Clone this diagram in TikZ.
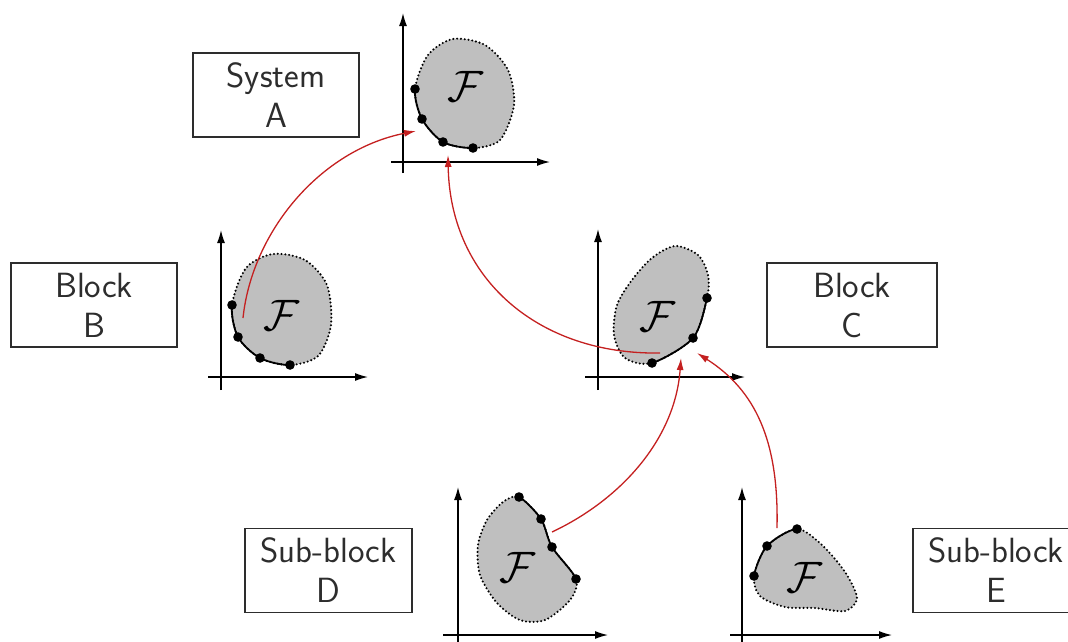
\RequirePackage{fix-cm}
\documentclass[tikz,border=0pt]{standalone}
\usepackage{fontspec}
\usetikzlibrary{arrows.meta}
\definecolor{linkred}{RGB}{196,32,32}
\definecolor{ink}{RGB}{45,45,45}
\begin{document}
\begin{tikzpicture}[x=1pt,y=-1pt,
  lbl/.style={draw=ink, line width=1.3pt, text=ink, minimum height=84pt, inner sep=0pt, align=center, font=\sffamily\fontsize{35}{40}\selectfont},
  axis/.style={line width=1.3pt, -{Latex[length=13pt,width=8pt]}},
  region/.style={fill=black!25, draw=black, line width=2.3pt, dash pattern=on 0pt off 3.8pt, line cap=round},
  front/.style={draw=black, line width=1.8pt},
  link/.style={draw=linkred, line width=1.3pt, -{Latex[length=12pt,width=7pt]}},
  fam/.style={inner sep=0pt, font=\fontsize{44}{44}\selectfont}]
\useasboundingbox (0,0) rectangle (1068,641);

% ---------- label boxes ----------
\node[lbl, minimum width=166pt] (sysA) at (276,95) {System\\A};
\node[lbl, minimum width=166pt] (blkB) at (94,305) {Block\\B};
\node[lbl, minimum width=170pt] (blkC) at (852,305) {Block\\C};
\node[lbl, minimum width=167pt, minimum height=84pt] (subD) at (328.5,570.5) {Sub-block\\D};
\node[lbl, minimum width=166pt, minimum height=84pt] (subE) at (996,570.5) {Sub-block\\E};

% ---------- axes ----------
\draw[axis] (403,173) -- (403,13);
\draw[axis] (391,162) -- (550,162);
\draw[axis] (221,390) -- (221,230);
\draw[axis] (208,377) -- (368,377);
\draw[axis] (598,390) -- (598,229);
\draw[axis] (585,377) -- (745,377);
\draw[axis] (458,650) -- (458,487);
\draw[axis] (443,635) -- (608,635);
\draw[axis] (742,650) -- (742,487);
\draw[axis] (730,635) -- (892,635);

% ---------- regions ----------
% A
\def\blobA{(415,89) (422,119) (443,142) (473,148) (500,140) (514,105) (508,70) (485,45) (453,39) (428,55)}
\path[region] plot[smooth cycle] coordinates {\blobA};
\begin{scope}
  \clip (463,95) -- (223,65) -- (513,360) -- cycle;
  \path[front] plot[smooth cycle] coordinates {\blobA};
\end{scope}
\foreach \p in {(415,89),(422,119),(443,142),(473,148)} \fill \p circle (4.8pt);
\node[fam] (fA) at (465,86) {$\mathcal{F}$};

% B
\def\blobB{(232,305) (238,337) (260,358) (290,365) (318,356) (331,325) (327,285) (305,260) (273,254) (246,268)}
\path[region] plot[smooth cycle] coordinates {\blobB};
\begin{scope}
  \clip (283,312) -- (28,277) -- (318,577) -- cycle;
  \path[front] plot[smooth cycle] coordinates {\blobB};
\end{scope}
\foreach \p in {(232,305),(238,337),(260,358),(290,365)} \fill \p circle (4.8pt);
\node[fam] (fB) at (281,315) {$\mathcal{F}$};

% C
\def\blobC{(707,298) (693,338) (652,363) (625,358) (614,335) (617,305) (632,280) (652,258) (675,246) (698,255) (708,275)}
\path[region] plot[smooth cycle] coordinates {\blobC};
\begin{scope}
  \clip (660,305) -- (895,270) -- (620,595) -- cycle;
  \path[front] plot[smooth cycle] coordinates {\blobC};
\end{scope}
\foreach \p in {(707,298),(693,338),(652,363)} \fill \p circle (4.8pt);
\node[fam] (fC) at (657,316) {$\mathcal{F}$};

% D
\def\blobD{(519,497) (541,519) (552,547) (576,579) (570,600) (545,620) (520,620) (497,603) (480,575) (478,545) (487,520) (503,502)}
\path[region] plot[smooth cycle] coordinates {\blobD};
\begin{scope}
  \clip (525,560) -- (495,245) -- (780,655) -- cycle;
  \path[front] plot[smooth cycle] coordinates {\blobD};
\end{scope}
\foreach \p in {(519,497),(541,519),(552,547),(576,579)} \fill \p circle (4.8pt);
\node[fam] (fD) at (517,567) {$\mathcal{F}$};

% E
\def\blobE{(754,576) (767,546) (797,529) (822,545) (845,572) (857,598) (845,611) (815,608) (785,607) (760,596)}
\path[region] plot[smooth cycle] coordinates {\blobE};
\begin{scope}
  \clip (805,575) -- (550,580) -- (765,345) -- cycle;
  \path[front] plot[smooth cycle] coordinates {\blobE};
\end{scope}
\foreach \p in {(754,576),(767,546),(797,529)} \fill \p circle (4.8pt);
\node[fam] (fE) at (804,577) {$\mathcal{F}$};

% ---------- red links ----------
\coordinate (bS) at (243,318);
\coordinate (aW) at (416,131);
\coordinate (cS) at (660,353);
\coordinate (aS) at (448,155);
\coordinate (dS) at (552,532);
\coordinate (cW) at (681,358);
\coordinate (eS) at (777,528);
\coordinate (cE) at (697,353);
\draw[link] (bS) .. controls (252,232) and (320,150) .. (aW);
\draw[link] (cS) .. controls (540,355) and (450,280) .. (aS);
\draw[link] (dS) .. controls (620,500) and (675,440) .. (cW);
\draw[link] (eS) .. controls (779,440) and (755,390) .. (cE);
\end{tikzpicture}
\end{document}
